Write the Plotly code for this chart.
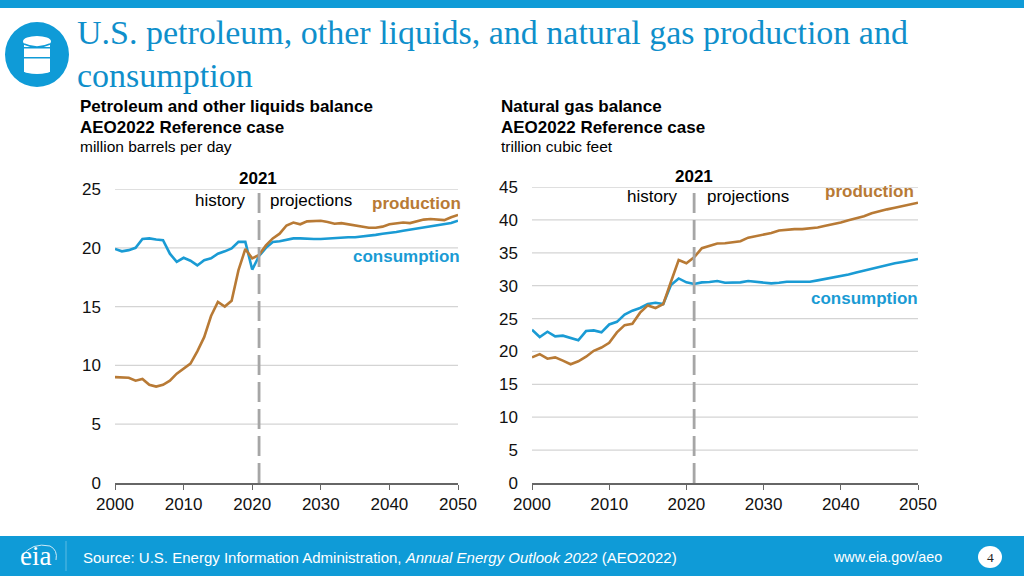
import plotly.graph_objects as go

years = list(range(2000, 2051))
petro_production = [9.0, 9.0, 8.95, 8.7, 8.85, 8.35, 8.2, 8.35, 8.7, 9.3, 9.7, 10.15, 11.2, 12.4, 14.2, 15.4, 15.0, 15.5, 18.1, 19.9, 19.1,
    19.4, 20.2, 20.8, 21.2, 21.9, 22.15, 22.0, 22.25, 22.3, 22.3, 22.2, 22.05, 22.1, 22.0, 21.9, 21.8, 21.7, 21.7, 21.8, 22.0,
    22.1, 22.15, 22.1, 22.25, 22.4, 22.45, 22.4, 22.35, 22.6, 22.8]
petro_consumption = [19.9, 19.7, 19.8, 20.0, 20.75, 20.8, 20.7, 20.65, 19.5, 18.8, 19.15, 18.9, 18.5, 18.95, 19.1, 19.5, 19.7, 19.95, 20.5, 20.5, 18.15,
    19.3, 20.0, 20.5, 20.55, 20.7, 20.8, 20.8, 20.75, 20.75, 20.75, 20.8, 20.85, 20.85, 20.9, 20.9, 20.95, 21.05, 21.1, 21.2, 21.25,
    21.35, 21.45, 21.55, 21.65, 21.75, 21.85, 21.95, 22.0, 22.1, 22.3]
gas_production = [19.1, 19.6, 18.9, 19.1, 18.6, 18.05, 18.5, 19.2, 20.1, 20.6, 21.3, 22.9, 24.0, 24.2, 25.9, 27.0, 26.6, 27.2, 30.6, 33.9, 33.4,
    34.3, 35.7, 36.1, 36.4, 36.45, 36.6, 36.75, 37.3, 37.55, 37.7, 38.0, 38.4, 38.55, 38.6, 38.6, 38.7, 38.85, 39.1, 39.3, 39.6,
    39.95, 40.25, 40.55, 41.0, 41.35, 41.6, 41.85, 42.1, 42.3, 42.6]
gas_consumption = [23.3, 22.2, 23.0, 22.3, 22.4, 22.0, 21.7, 23.1, 23.2, 22.9, 24.1, 24.5, 25.6, 26.2, 26.6, 27.2, 27.4, 27.2, 30.1, 31.1, 30.5,
    30.25, 30.5, 30.55, 30.7, 30.45, 30.5, 30.5, 30.7, 30.55, 30.4, 30.35, 30.45, 30.6, 30.6, 30.55, 30.6, 30.8, 31.0, 31.2, 31.4,
    31.7, 32.0, 32.3, 32.6, 32.9, 33.15, 33.4, 33.6, 33.8, 34.05]
x_ticks = [2000, 2010, 2020, 2030, 2040, 2050]
petro_ticks = [0, 5, 10, 15, 20, 25]
gas_ticks = [0, 5, 10, 15, 20, 25, 30, 35, 40, 45]

W, H = 1024, 576
BLUE = "#0f9bd7"
BROWN = "#b87a35"
LINE_BLUE = "#1a9bd4"
SANS = "Liberation Sans"
SERIF = "Liberation Serif"

def fx(p): return p / W
def fy(p): return 1 - p / H

fig = go.Figure()
for xa, ya, prod, cons in [("x", "y", petro_production, petro_consumption),
                           ("x2", "y2", gas_production, gas_consumption)]:
    fig.add_trace(go.Scatter(x=years, y=cons, xaxis=xa, yaxis=ya, mode="lines", name="consumption",
                             line=dict(color=LINE_BLUE, width=2.6), showlegend=False, hoverinfo="skip"))
    fig.add_trace(go.Scatter(x=years, y=prod, xaxis=xa, yaxis=ya, mode="lines", name="production",
                             line=dict(color=BROWN, width=2.6), showlegend=False, hoverinfo="skip"))

shapes = []
def rect(x0, y0, x1, y1, color):
    shapes.append(dict(type="rect", xref="paper", yref="paper", x0=fx(x0), x1=fx(x1), y0=fy(y0), y1=fy(y1),
                       fillcolor=color, line=dict(width=0), layer="above"))
def oval(x0, y0, x1, y1, color, lc=None):
    shapes.append(dict(type="circle", xref="paper", yref="paper", x0=fx(x0), x1=fx(x1), y0=fy(y0), y1=fy(y1),
                       fillcolor=color, line=dict(width=1 if lc else 0, color=lc or color), layer="above"))

# gridlines, drawn on the data axes
for xr, yr, vals in [("x", "y", petro_ticks), ("x2", "y2", gas_ticks)]:
    for v in vals[1:]:
        shapes.append(dict(type="line", xref=xr, yref=yr, x0=2000, x1=2050, y0=v, y1=v,
                           line=dict(color="#d4d4d4", width=1.3), layer="below"))

rect(0, 0, W, 8, BLUE)
rect(0, 536, W, 576, BLUE)
# barrel icon
oval(5, 22, 69, 87, BLUE)
rect(24, 42, 50, 72, "white")
oval(23, 36, 51, 47, "white")
oval(24, 68, 50, 74, "white")
rect(24, 47, 50, 48.5, BLUE)
rect(24, 57, 50, 58.5, BLUE)
shapes.append(dict(type="path", xref="paper", yref="paper", layer="above", line=dict(color=BLUE, width=1.5),
                   path=f"M {fx(24)} {fy(44)} Q {fx(37)} {fy(50)} {fx(50)} {fy(44)}"))
# footer details
rect(65.5, 541, 66.5, 571, "#5cbce4")
shapes.append(dict(type="path", xref="paper", yref="paper", layer="above", line=dict(color="#cfeaf6", width=1),
                   path=f"M {fx(22)} {fy(556)} Q {fx(32)} {fy(542)} {fx(50)} {fy(546)} Q {fx(58)} {fy(550)} {fx(56)} {fy(560)}"))
oval(978, 546, 1002, 568, "white")
# 2021 dividers, drawn on the data axes
for xr, yr, top in [("x", "y", 25), ("x2", "y2", 45)]:
    shapes.append(dict(type="line", xref=xr, yref=yr, x0=2021, x1=2021, y0=0, y1=top,
                       line=dict(color="#a6a6a6", width=2.8, dash="20px,7px"), layer="above"))
fig.update_layout(shapes=shapes)

def txt(x, y, s, size=16, color="black", anchor="left", family=SANS, bold=False):
    if bold:
        s = f"<b>{s}</b>"
    fig.add_annotation(xref="paper", yref="paper", x=fx(x), y=fy(y), text=s, showarrow=False,
                       xanchor=anchor, yanchor="middle", align=anchor,
                       font=dict(size=size, color=color, family=family),
                       borderpad=0, borderwidth=0)

txt(77, 33, "U.S. petroleum, other liquids, and natural gas production and", 34, "#0f8fcb", family=SERIF)
txt(77, 75, "consumption", 34, "#0f8fcb", family=SERIF)

txt(80, 107, "Petroleum and other liquids balance", 17, bold=True)
txt(80, 127, "AEO2022 Reference case", 17, bold=True)
txt(80, 147, "million barrels per day", 15.5)
txt(501, 107, "Natural gas balance", 17, bold=True)
txt(501, 127, "AEO2022 Reference case", 17, bold=True)
txt(501, 147, "trillion cubic feet", 15.5)

txt(258, 178, "2021", 17, anchor="center", bold=True)
txt(246, 200, "history", 17, anchor="right")
txt(270, 200, "projections", 17)
txt(461, 203, "production", 17, BROWN, anchor="right", bold=True)
txt(460, 256, "consumption", 17, LINE_BLUE, anchor="right", bold=True)

txt(694, 176, "2021", 17, anchor="center", bold=True)
txt(678, 197, "history", 17, anchor="right")
txt(707, 197, "projections", 17)
txt(914, 191, "production", 17, BROWN, anchor="right", bold=True)
txt(918, 298, "consumption", 17, LINE_BLUE, anchor="right", bold=True)

txt(83, 557, "Source: U.S. Energy Information Administration, <i>Annual Energy Outlook 2022</i> (AEO2022)", 15, "white")
txt(833, 557, "www.eia.gov/aeo", 14.3, "white")
txt(990, 557, "4", 13.5, "#222222", anchor="center", family=SERIF)
txt(35, 556, "eia", 27, "white", anchor="center", family=SERIF)

axis_common = dict(showline=True, linecolor="#666666", linewidth=1.5, ticks="outside", ticklen=5, tickcolor="#666666", tickwidth=1,
                   tickfont=dict(size=17, color="#111111", family=SANS), zeroline=False, fixedrange=True, automargin=False)
xcommon = dict(axis_common, range=[2000, 2050], tickmode="array", tickvals=x_ticks, showgrid=False)
ycommon = dict(showline=False, ticks="", showgrid=False, zeroline=False, automargin=False, tickmode="array",
               tickfont=dict(size=17, color="#111111", family=SANS), fixedrange=True)

fig.update_layout(
    width=W, height=H, autosize=False,
    margin=dict(l=0, r=0, t=0, b=0, pad=0),
    paper_bgcolor="white", plot_bgcolor="white", showlegend=False,
    xaxis=dict(xcommon, domain=[fx(115), fx(458)], anchor="y"),
    yaxis=dict(ycommon, domain=[fy(483), fy(189)], range=[0, 25], tickvals=petro_ticks, anchor="x", ticklabelstandoff=13),
    xaxis2=dict(xcommon, domain=[fx(532), fx(918)], anchor="y2"),
    yaxis2=dict(ycommon, domain=[fy(483), fy(187)], range=[0, 45], tickvals=gas_ticks, anchor="x2", ticklabelstandoff=13),
)
fig.write_html("out.html", config=dict(displayModeBar=False),
               post_script="document.body.style.margin='0';document.documentElement.style.overflow='hidden';")
